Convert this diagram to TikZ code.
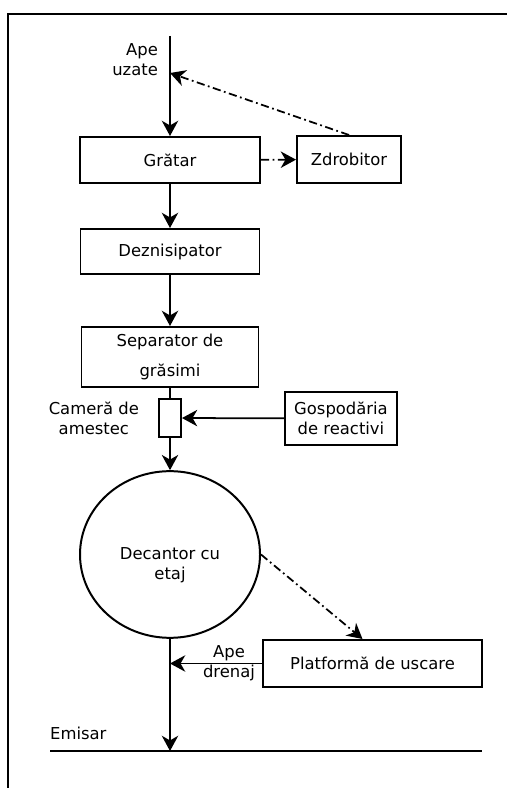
\documentclass[tikz,border=0pt]{standalone}
\usepackage{fontspec}
\setmainfont{DejaVu Sans}
\usetikzlibrary{positioning, arrows.meta, shapes.geometric}

\begin{document}
\begin{tikzpicture}[
		>={Stealth[length=13pt, width=14pt, inset=4pt]},
		every node/.style={font=\fontsize{14pt}{17pt}\selectfont},
		unit/.style={draw, line width=1.7pt, rectangle, inner sep=0pt, align=center},
		flow/.style={->, line width=1.5pt},
		aux/.style={->, line width=1.5pt, dash pattern=on 7pt off 3pt on 1.5pt off 3pt},
		plain/.style={line width=1.5pt}
		]
		\useasboundingbox (0,0) rectangle (15.21,23.64);
		
		% --- FRAME ---
		\draw[line width=1.5pt] (0.24,0) -- (0.24,23.22) -- (15.21,23.22);
		
		% --- MAIN LINE UNITS ---
		\coordinate (src) at (5.1, 22.56);
		\coordinate (inlet) at (5.1, 21.45);
		\node[anchor=east, align=right] (apeuz) at (4.86, 21.84) {Ape\\uzate};
		
		\node[unit, minimum width=5.4cm, minimum height=1.38cm] (gratar) at (5.1, 18.84) {Grătar};
		\node[unit, minimum width=3.12cm, minimum height=1.41cm] (zdrob) at (10.47, 18.855) {Zdrobitor};
		\node[unit, minimum width=5.37cm, minimum height=1.35cm] (deznis) at (5.1, 16.095) {Deznisipator};
		\node[unit, minimum width=5.31cm, minimum height=1.8cm] (separ) at (5.1, 12.93) {Separator de\\[8pt]grăsimi};
		
		% Mixing chamber and reagents
		\node[unit, minimum width=0.66cm, minimum height=1.14cm] (camera) at (5.1, 11.1) {};
		\node[left=0.45cm of camera, align=center] (cameralbl) {Cameră de\\amestec};
		\node[unit, minimum width=3.36cm, minimum height=1.59cm] (gosp) at (10.23, 11.085) {Gospodăria\\de reactivi};
		
		% --- SETTLING AND DRYING ---
		\node[draw, ellipse, line width=1.7pt, minimum width=5.4cm, minimum height=5.0cm,
			label={[align=center, yshift=-0.33cm]center:Decantor cu\\etaj}] (decant) at (5.1, 7.005) {};
		\node[unit, minimum width=6.57cm, minimum height=1.41cm] (platf) at (11.175, 3.735) {Platformă de uscare};
		\coordinate (drain) at (5.1, 3.735);
		\node[align=center] (apedr) at (6.87, 3.75) {Ape\\drenaj};
		
		% --- OUTFALL ---
		\coordinate (outfall) at (5.1, 1.11);
		\coordinate (emL) at (1.5, 1.11);
		\coordinate (emR) at (14.46, 1.11);
		\node[anchor=base west, inner sep=0pt] (emisar) at (1.5, 1.44) {Emisar};
		
		% --- CONNECTORS ---
		\draw[flow] (src) -- (gratar);
		\draw[aux] (gratar) -- (zdrob);
		\draw[aux] (zdrob.north) -- (inlet);
		\draw[flow] (gratar) -- (deznis);
		\draw[flow] (deznis) -- (separ);
		\draw[plain] (separ) -- (camera);
		\draw[flow] (gosp) -- (camera);
		\draw[flow] (camera) -- (decant);
		\draw[aux] (decant.east) -- ([xshift=-0.3cm]platf.north);
		\draw[flow] (platf) -- (drain);
		\draw[flow] (decant) -- (outfall);
		\draw[plain] (emL) -- (emR);
		
	\end{tikzpicture}
\end{document}
